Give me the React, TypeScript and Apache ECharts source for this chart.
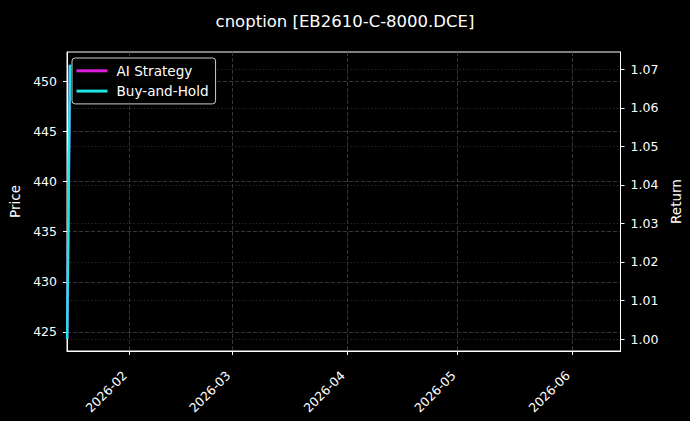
import React, { useEffect, useRef } from "react";
import * as echarts from "echarts";

const title = "cnoption [EB2610-C-8000.DCE]";
const dates = ["2026-01-15T06:00:00Z", "2026-01-16T00:00:00Z"];
const aiStrategy = [1.0, 1.0712];
const buyHold = [1.0, 1.0712];
const priceTicks = [425, 430, 435, 440, 445, 450];
const returnTicks = [1.0, 1.01, 1.02, 1.03, 1.04, 1.05, 1.06, 1.07];
const monthTicks = ["2026-02-01T00:00:00Z", "2026-03-01T00:00:00Z", "2026-04-01T00:00:00Z", "2026-05-01T00:00:00Z", "2026-06-01T00:00:00Z"];
const xMin = "2026-01-15T05:00:00Z";
const xMax = "2026-06-14T03:00:00Z";

const FONT = "DejaVu Sans";
const LEGEND_ICON = "path://M0,0 L31,0 L31,3 L0,3 Z";

export default function App() {
  const ref = useRef<HTMLDivElement>(null);
  useEffect(() => {
    const chart = echarts.init(ref.current!, null, { renderer: "svg" });
    const ts = (s: string) => new Date(s).getTime();
    const monthVals = monthTicks.map(ts);
    const fmtMonth = (v: number) => {
      const d = new Date(v);
      return d.getUTCFullYear() + "-" + String(d.getUTCMonth() + 1).padStart(2, "0");
    };
    chart.setOption({
      animation: false,
      backgroundColor: "#000",
      textStyle: { fontFamily: FONT },
      title: {
        text: title,
        left: "center",
        top: 8,
        textStyle: { color: "#fff", fontSize: 16.5, fontWeight: "normal", fontFamily: FONT },
      },
      grid: {
        left: 67,
        top: 52,
        right: 69.5,
        bottom: 70,
        show: true,
        borderColor: "#fff",
        borderWidth: 1,
        backgroundColor: "#000",
        containLabel: false,
        outerBoundsMode: "none",
      },
      legend: {
        left: 72,
        top: 58,
        orient: "vertical",
        data: ["AI Strategy", "Buy-and-Hold"],
        icon: LEGEND_ICON,
        symbolKeepAspect: true,
        itemWidth: 31,
        itemHeight: 14,
        itemGap: 6.3,
        padding: [5.8, 7, 5.8, 4.5],
        lineStyle: { width: 2.8 },
        borderColor: "#cccccc",
        borderWidth: 1,
        borderRadius: 3,
        backgroundColor: "rgba(0,0,0,0.85)",
        textStyle: { color: "#fff", fontSize: 13.6, fontFamily: FONT, padding: [0, 0, 0, 4] },
      },
      xAxis: {
        type: "value",
        min: ts(xMin),
        max: ts(xMax),
        axisLine: { lineStyle: { color: "#fff", width: 1 } },
        axisTick: { show: true, length: 4, lineStyle: { color: "#fff" }, customValues: monthVals },
        axisLabel: {
          color: "#fff",
          fontSize: 12.5,
          fontFamily: FONT,
          rotate: 45,
          margin: 18,
          padding: [0, 6, 0, 0],
          customValues: monthVals,
          formatter: (v: number) => fmtMonth(v),
        },
        splitLine: { show: true, lineStyle: { color: "#444", type: [4, 2], width: 0.8 } },
      },
      yAxis: [
        {
          type: "value",
          position: "left",
          min: 423.1,
          max: 452.9,
          name: "Price",
          nameLocation: "middle",
          nameGap: 42,
          nameTextStyle: { color: "#fff", fontSize: 13.5, fontFamily: FONT },
          axisLine: { show: true, lineStyle: { color: "#fff" } },
          axisTick: { show: true, length: 4, lineStyle: { color: "#fff" }, customValues: priceTicks },
          axisLabel: { color: "#fff", fontSize: 12.5, fontFamily: FONT, margin: 10, customValues: priceTicks },
          splitLine: { show: true, lineStyle: { color: "#444", type: [4, 2], width: 0.8 } },
        },
        {
          type: "value",
          position: "right",
          min: 0.9969,
          max: 1.0745,
          name: "Return",
          nameLocation: "middle",
          nameGap: 43,
          nameTextStyle: { color: "#fff", fontSize: 13.5, fontFamily: FONT },
          axisLine: { show: true, lineStyle: { color: "#fff" } },
          axisTick: { show: true, length: 4, lineStyle: { color: "#fff" }, customValues: returnTicks },
          axisLabel: {
            color: "#fff",
            fontSize: 12.5,
            fontFamily: FONT,
            margin: 10,
            customValues: returnTicks,
            formatter: (v: number) => v.toFixed(2),
          },
          splitLine: { show: true, lineStyle: { color: "#2e2e2e", type: [1.5, 2], width: 0.8 } },
        },
      ],
      series: [
        {
          name: "AI Strategy",
          type: "line",
          yAxisIndex: 1,
          symbol: "none",
          data: dates.map((d, i) => [ts(d), aiStrategy[i]]),
          lineStyle: { color: "#dc1edc", width: 2.5 },
          itemStyle: { color: "#dc1edc" },
        },
        {
          name: "Buy-and-Hold",
          type: "line",
          yAxisIndex: 1,
          symbol: "none",
          data: dates.map((d, i) => [ts(d), buyHold[i]]),
          lineStyle: { color: "#1ee6e6", width: 2.5 },
          itemStyle: { color: "#1ee6e6" },
        },
      ],
    });
    return () => chart.dispose();
  }, []);
  return (
    <div
      ref={ref}
      style={{ position: "fixed", left: 0, top: 0, width: 690, height: 421, background: "#000" }}
    />
  );
}
